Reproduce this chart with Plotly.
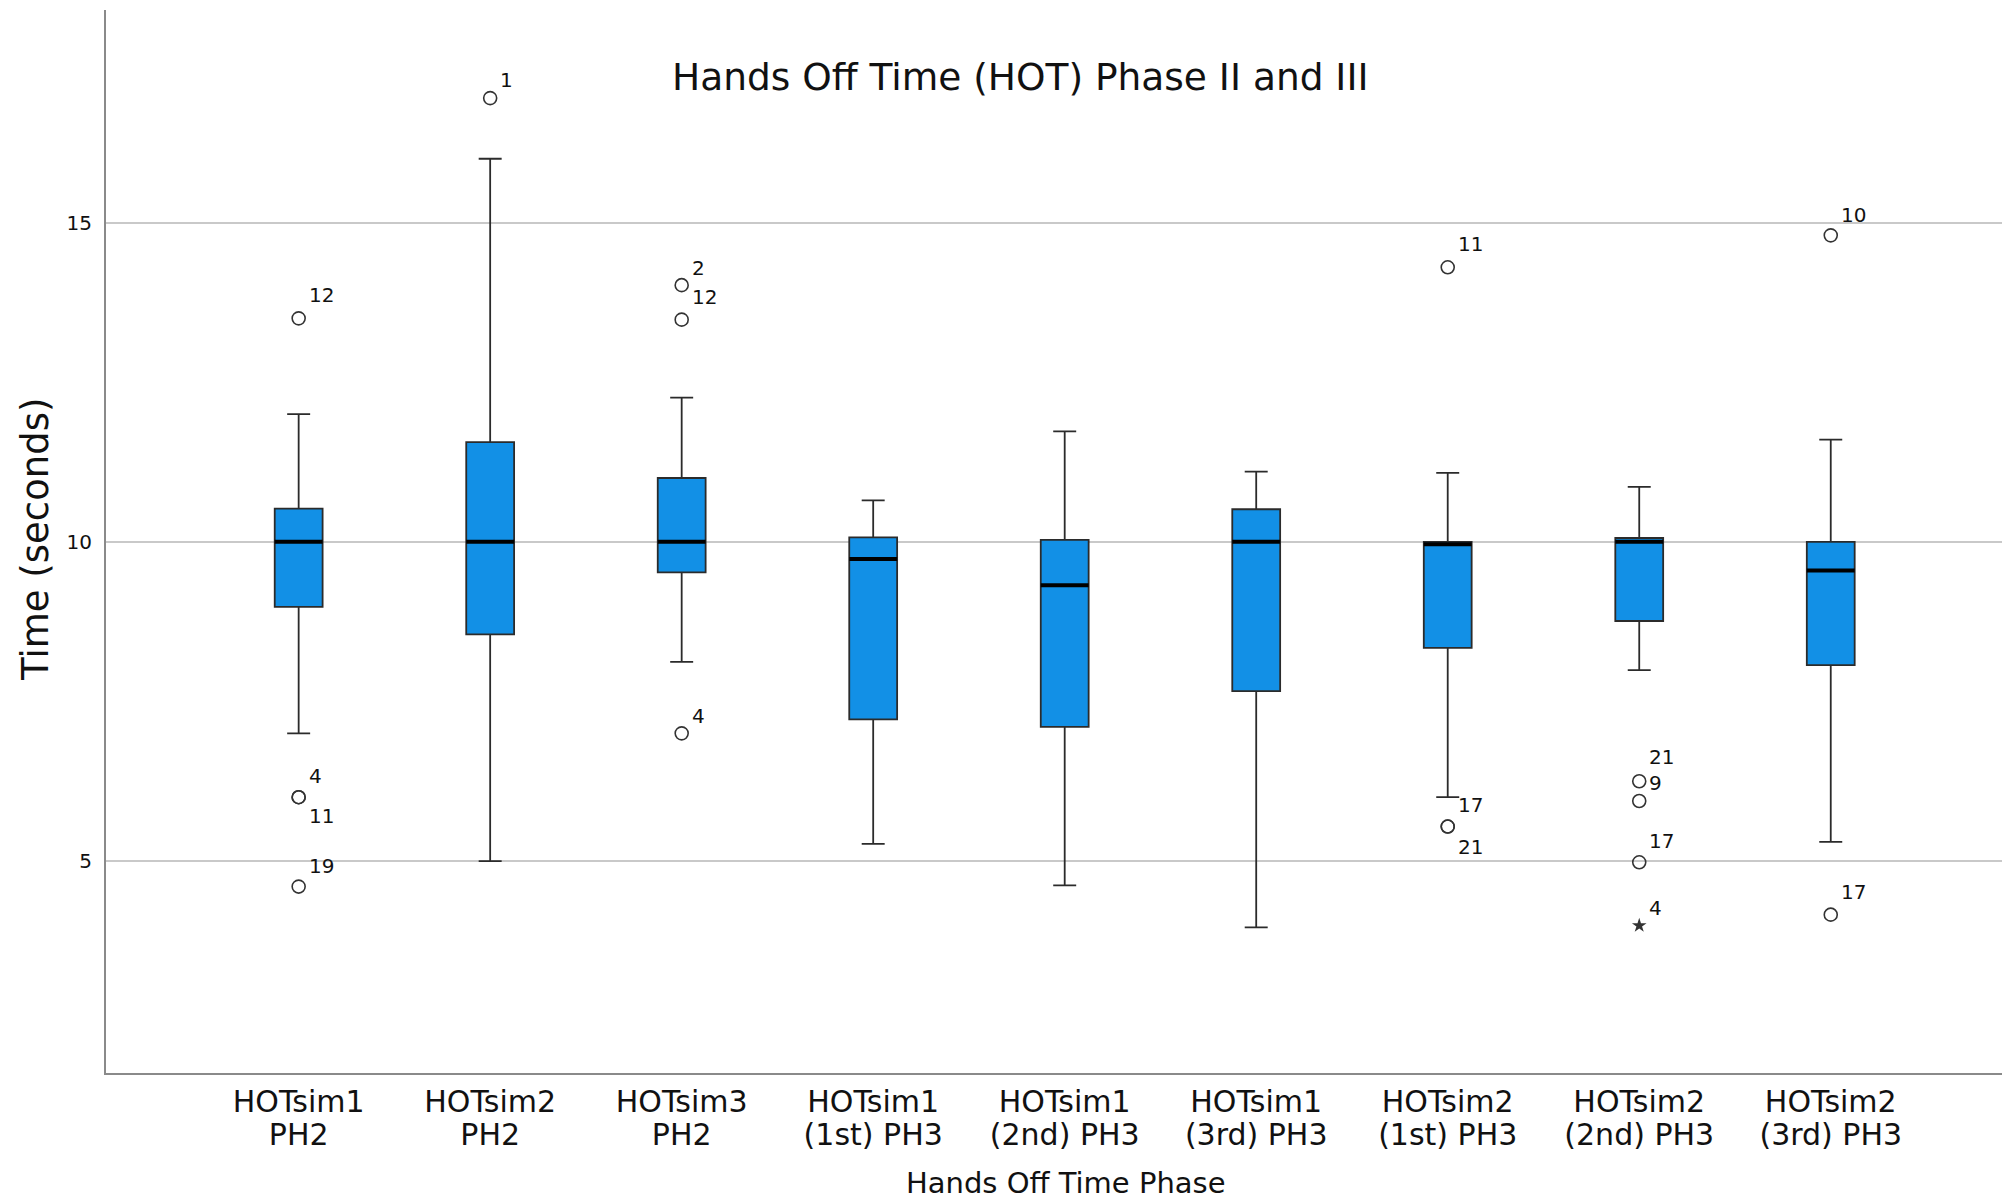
import plotly.graph_objects as go

# ---- data ----
tick_line1 = ["HOTsim1", "HOTsim2", "HOTsim3", "HOTsim1", "HOTsim1", "HOTsim1",
              "HOTsim2", "HOTsim2", "HOTsim2"]
tick_line2 = ["PH2", "PH2", "PH2", "(1st) PH3", "(2nd) PH3", "(3rd) PH3",
              "(1st) PH3", "(2nd) PH3", "(3rd) PH3"]
lower_whisker = [7.00, 5.00, 8.12, 5.27, 4.62, 3.96, 6.00, 7.99, 5.30]
q1_values     = [8.98, 8.55, 9.52, 7.22, 7.10, 7.66, 8.34, 8.76, 8.07]
medians       = [10.00, 10.00, 10.00, 9.73, 9.32, 10.00, 9.96, 10.00, 9.55]
q3_values     = [10.52, 11.56, 11.00, 10.07, 10.03, 10.51, 10.00, 10.06, 10.00]
upper_whisker = [12.00, 16.00, 12.26, 10.65, 11.73, 11.10, 11.08, 10.86, 11.60]

outlier_cat    = [0, 0, 0, 0, 1, 2, 2, 2, 6, 6, 6, 7, 7, 7, 8, 8]
outlier_values = [13.50, 6.00, 6.00, 4.60, 16.95, 14.02, 13.48, 7.00,
                  14.30, 5.54, 5.54, 6.25, 5.94, 4.98, 14.80, 4.16]
outlier_labels = ["12", "4", "11", "19", "1", "2", "12", "4",
                  "11", "17", "21", "21", "9", "17", "10", "17"]

extreme_cat    = [7]
extreme_values = [3.99]
extreme_labels = ["4"]

y_ticks = [5, 10, 15]

# ---- style ----
FONT = "DejaVu Sans"
TXT = "#111111"
BOX_W = 0.25
PAGE_OFF = 8  # default body margin of the html page
label_dy = [23, 21, -19, 21, 18, 17, 23, 17, 23, 22, -20, 24, 18, 21, 20, 23]
extreme_dy = [18]

xs = list(range(len(tick_line1)))

fig = go.Figure()

for i in xs:
    fig.add_trace(go.Box(
        x=[i], q1=[q1_values[i]], median=[medians[i]], q3=[q3_values[i]],
        lowerfence=[lower_whisker[i]], upperfence=[upper_whisker[i]],
        width=BOX_W, whiskerwidth=0.48,
        fillcolor="#1290e6", line=dict(color="#2b2b2b", width=1.8),
        boxpoints=False, showlegend=False, hoverinfo="skip"))

# thick median lines
mx, my = [], []
for i in xs:
    mx += [i - BOX_W / 2, i + BOX_W / 2, None]
    my += [medians[i], medians[i], None]
fig.add_trace(go.Scatter(x=mx, y=my, mode="lines",
                         line=dict(color="#000000", width=4),
                         showlegend=False, hoverinfo="skip"))

# outliers
fig.add_trace(go.Scatter(
    x=outlier_cat, y=outlier_values, mode="markers",
    marker=dict(symbol="circle-open", size=13, color="#333333",
                line=dict(width=1.6, color="#333333")),
    showlegend=False, hoverinfo="skip"))
fig.add_trace(go.Scatter(
    x=extreme_cat, y=extreme_values, mode="markers",
    marker=dict(symbol="star", size=11, color="#333333"),
    showlegend=False, hoverinfo="skip"))

# dummy trace so the second-line tick axis is drawn
fig.add_trace(go.Scatter(x=[], y=[], xaxis="x2", yaxis="y", showlegend=False,
                         hoverinfo="skip"))

for c, v, t, dy in zip(outlier_cat + extreme_cat, outlier_values + extreme_values,
                       outlier_labels + extreme_labels, label_dy + extreme_dy):
    fig.add_annotation(x=c, y=v, text=t, showarrow=False, xanchor="left",
                       yanchor="middle", xshift=8, yshift=dy,
                       font=dict(family=FONT, size=20, color=TXT))

# title / axis titles (positions relative to the plot area)
fig.add_annotation(text="Hands Off Time (HOT) Phase II and III",
                   xref="paper", yref="paper",
                   x=(1020 - 106) / 1904, y=(1073 - 77) / 1063,
                   xanchor="center", yanchor="middle", showarrow=False,
                   font=dict(family=FONT, size=37.5, color=TXT))
fig.add_annotation(text="Time (seconds)", textangle=-90,
                   xref="paper", yref="paper",
                   x=(35 - 106) / 1904, y=(1073 - 540) / 1063,
                   xanchor="center", yanchor="middle", showarrow=False,
                   font=dict(family=FONT, size=37, color=TXT))
fig.add_annotation(text="Hands Off Time Phase",
                   xref="paper", yref="paper",
                   x=(1066 - 106) / 1904, y=(1073 - 1183) / 1063,
                   xanchor="center", yanchor="middle", showarrow=False,
                   font=dict(family=FONT, size=29, color=TXT))

fig.update_layout(
    width=2010, height=1200,
    margin=dict(l=106 - PAGE_OFF, r=PAGE_OFF, t=10 - PAGE_OFF, b=1200 - 1073 + PAGE_OFF,
                autoexpand=False),
    paper_bgcolor="white", plot_bgcolor="white",
    font=dict(family=FONT, color=TXT),
    showlegend=False,
    xaxis=dict(
        range=[-1.006, 8.936], tickmode="array", tickvals=xs, ticktext=tick_line1,
        showgrid=False, zeroline=False, showline=True, linecolor="#8a8a8a", linewidth=2,
        ticks="", tickfont=dict(family=FONT, size=30, color=TXT),
        ticklabelstandoff=1, automargin=False),
    xaxis2=dict(
        overlaying="x", matches="x", side="bottom", anchor="y",
        range=[-1.006, 8.936], tickmode="array", tickvals=xs, ticktext=tick_line2,
        showgrid=False, zeroline=False, showline=False,
        ticks="", tickfont=dict(family=FONT, size=30, color=TXT),
        ticklabelstandoff=41, automargin=False),
    yaxis=dict(
        range=[1.68, 18.33], tickmode="array", tickvals=y_ticks,
        showgrid=True, gridcolor="#c9c9c9", gridwidth=1.5, zeroline=False,
        showline=True, linecolor="#8a8a8a", linewidth=2, ticks="",
        tickfont=dict(family=FONT, size=20, color=TXT), ticklabelstandoff=8,
        automargin=False),
)

fig.write_html("out.html")
